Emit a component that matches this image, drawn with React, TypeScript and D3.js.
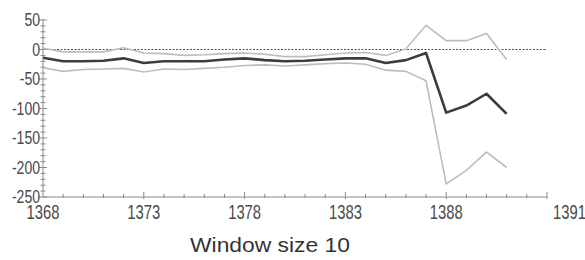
import { useEffect, useRef } from 'react';
import * as d3 from 'd3';

// years on the x axis, one point per year
const years = d3.range(1368, 1392);

// middle (mean) series
const meanValues = [
  -14, -20, -20, -19, -15, -23, -20, -20, -20, -17, -15, -18,
  -20, -19, -17, -15, -15, -23, -18, -6, -107, -95, -75, -109,
];

// upper band
const upperValues = [
  2, -4, -4, -4, 3, -6, -7, -10, -9, -7, -6, -8,
  -12, -12, -9, -6, -5, -10, 1, 41, 15, 15, 27, -17,
];

// lower band
const lowerValues = [
  -31, -37, -34, -33, -32, -38, -33, -34, -32, -30, -27, -26,
  -28, -26, -24, -23, -25, -35, -37, -53, -228, -205, -174, -200,
];

const xTickLabels = [1368, 1373, 1378, 1383, 1388];
const yTickLabels = [50, 0, -50, -100, -150, -200, -250];
const endLabel = '1391';
const caption = 'Window size 10';

const App = () => {
  const svgRef = useRef<SVGSVGElement>(null);

  useEffect(() => {
    if (!svgRef.current) return;
    const width = 585;
    const height = 260;

    const svg = d3.select(svgRef.current);
    svg.selectAll('*').remove();
    svg.attr('width', width).attr('height', height);

    const x = d3.scaleLinear().domain([1368, 1393]).range([43, 547]);
    const y = d3.scaleLinear().domain([-250, 50]).range([197, 20]);

    const axisColor = '#8a8a8a';
    const labelFont = '"Liberation Sans", Arial, sans-serif';
    // tick labels in the reference are condensed, so squeeze them horizontally
    const squeeze = 0.74;

    // zero reference line
    svg.append('line')
      .attr('x1', x(1368)).attr('x2', x(1393))
      .attr('y1', y(0)).attr('y2', y(0))
      .attr('stroke', '#222')
      .attr('stroke-width', 0.8)
      .attr('stroke-dasharray', '2,1.5');

    // y axis
    const yAxis = svg.append('g');
    yAxis.append('line')
      .attr('x1', x(1368)).attr('x2', x(1368))
      .attr('y1', y(52)).attr('y2', y(-250))
      .attr('stroke', axisColor);
    yAxis.selectAll('.yminor')
      .data(d3.range(-250, 51, 10))
      .join('line')
      .attr('x1', d => x(1368) - (d % 50 === 0 ? 4 : 2.5))
      .attr('x2', d => x(1368) + (d % 50 === 0 ? 4 : 2.5))
      .attr('y1', d => y(d)).attr('y2', d => y(d))
      .attr('stroke', axisColor);
    yAxis.selectAll('text')
      .data(yTickLabels)
      .join('text')
      .attr('transform', d => `translate(${x(1368) - 3},${y(d)}) scale(0.78,1)`)
      .attr('dy', '0.35em')
      .attr('text-anchor', 'end')
      .attr('font-family', labelFont)
      .attr('font-size', 18)
      .attr('fill', '#4a4a4a')
      .text(d => d);

    // x axis
    const xAxis = svg.append('g');
    xAxis.append('line')
      .attr('x1', x(1368)).attr('x2', x(1393))
      .attr('y1', y(-250)).attr('y2', y(-250))
      .attr('stroke', axisColor);
    xAxis.selectAll('.xminor')
      .data(d3.range(1369, 1394))
      .join('line')
      .attr('x1', d => x(d)).attr('x2', d => x(d))
      .attr('y1', d => y(-250) - ((d - 1368) % 5 === 0 ? 5 : 3))
      .attr('y2', d => y(-250) + ((d - 1368) % 5 === 0 ? 2 : 1))
      .attr('stroke', axisColor);
    xAxis.selectAll('text')
      .data(xTickLabels)
      .join('text')
      .attr('transform', d => `translate(${x(d)},219) scale(${squeeze},1)`)
      .attr('text-anchor', 'middle')
      .attr('font-family', labelFont)
      .attr('font-size', 20)
      .attr('fill', '#4a4a4a')
      .text(d => d);
    xAxis.append('text')
      .attr('transform', `translate(${x(1393) + 6},219) scale(${squeeze},1)`)
      .attr('font-family', labelFont)
      .attr('font-size', 20)
      .attr('fill', '#4a4a4a')
      .text(endLabel);

    const line = d3.line<number>()
      .x((_, i) => x(years[i]))
      .y(d => y(d));

    svg.append('path')
      .attr('d', line(upperValues))
      .attr('fill', 'none')
      .attr('stroke', '#bdbdbd')
      .attr('stroke-width', 1.6);
    svg.append('path')
      .attr('d', line(lowerValues))
      .attr('fill', 'none')
      .attr('stroke', '#bdbdbd')
      .attr('stroke-width', 1.6);
    svg.append('path')
      .attr('d', line(meanValues))
      .attr('fill', 'none')
      .attr('stroke', '#3c3c3c')
      .attr('stroke-width', 2.6)
      .attr('stroke-linejoin', 'round');

    // caption below the chart
    svg.append('text')
      .attr('x', 270)
      .attr('y', 252)
      .attr('text-anchor', 'middle')
      .attr('font-family', labelFont)
      .attr('font-size', 21)
      .attr('textLength', 160)
      .attr('lengthAdjust', 'spacingAndGlyphs')
      .attr('fill', '#333')
      .text(caption);
  }, []);

  return (
    <div style={{ position: 'absolute', left: 0, top: 0 }}>
      <svg ref={svgRef} style={{ display: 'block', background: '#fff' }}></svg>
    </div>
  );
};

export default App;
